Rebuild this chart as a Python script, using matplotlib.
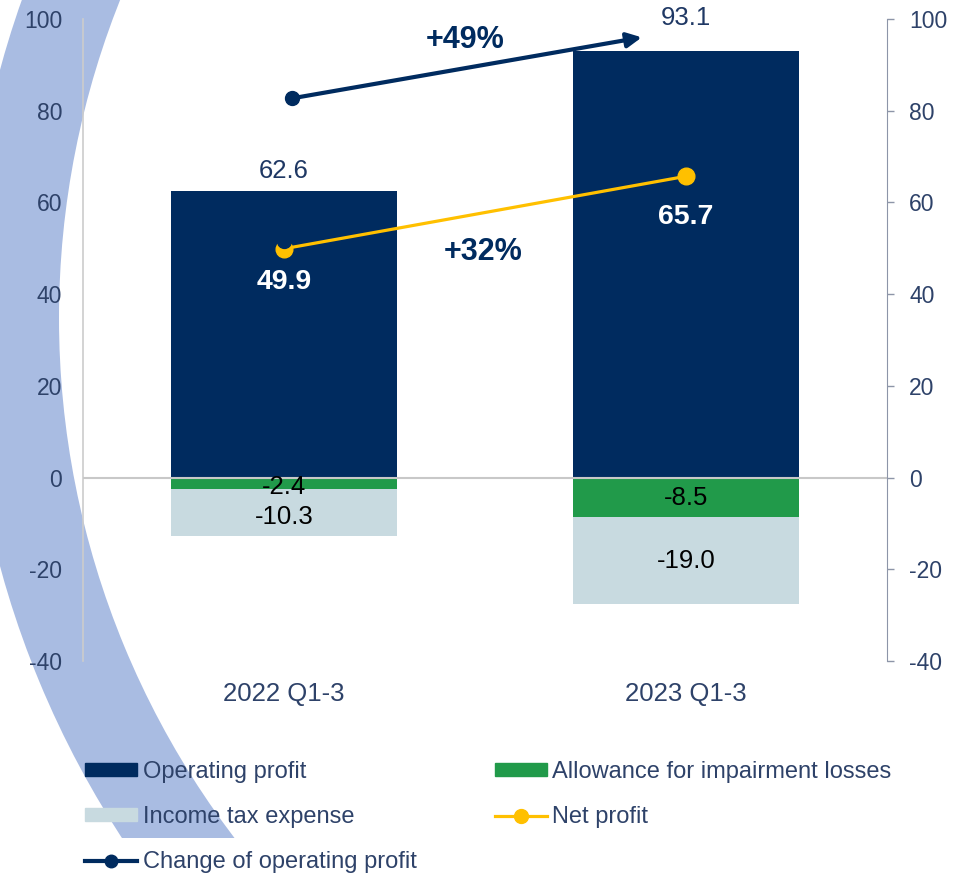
import matplotlib.pyplot as plt
from matplotlib.patches import Wedge, Rectangle, Patch
from matplotlib.lines import Line2D

plt.rcParams['font.family'] = ['Liberation Sans', 'DejaVu Sans']
plt.rcParams['axes.unicode_minus'] = False

categories = ['2022 Q1-3', '2023 Q1-3']
operating_profit = [62.6, 93.1]
impairment = [-2.4, -8.5]
income_tax = [-10.3, -19.0]
net_profit = [49.9, 65.7]
change_x = [0.02, 0.89]
change_y = [82.7, 96.0]
growth_labels = ['+49%', '+32%']

navy = '#002B5F'
green = '#219A4A'
light = '#C8DAE0'
yellow = '#FFC000'
txt = '#2E4269'

fig = plt.figure(figsize=(9.78, 8.76), dpi=100)

# decorative swoosh behind everything (figure pixel coords)
bg = fig.add_axes([0, 0, 1, 1], zorder=0)
bg.set_xlim(0, 978)
bg.set_ylim(876, 0)
bg.axis('off')
ring = Wedge((917, 318), 950, 0, 360, width=92, color='#A9BCE2', lw=0)
bg.add_patch(ring)
clip = Rectangle((0, 0), 978, 838, transform=bg.transData)
ring.set_clip_path(clip)

ax = fig.add_axes([83 / 978, 1 - 661 / 876, 804 / 978, 642 / 876], zorder=1)
ax.patch.set_alpha(0)
x = range(len(categories))
w = 0.56
ax.bar(x, operating_profit, w, color=navy, zorder=2)
ax.bar(x, impairment, w, color=green, zorder=2)
ax.bar(x, income_tax, w, bottom=impairment, color=light, zorder=2)
ax.axhline(0, color='#C8C8C8', lw=1.5, zorder=3)

ax.set_xlim(-0.5, 1.5)
ax.set_ylim(-40, 100)
ax.set_yticks(range(-40, 101, 20))
ax.set_xticks(list(x))
ax.set_xticklabels(categories)
ax.tick_params(axis='x', length=0, pad=15, labelsize=18.5, labelcolor=txt)
ax.tick_params(axis='y', length=0, pad=15, labelsize=16.5, labelcolor=txt)
for s in ['top', 'right', 'bottom']:
    ax.spines[s].set_visible(False)
ax.spines['left'].set_color('#CCCCCC')
ax.spines['left'].set_linewidth(1.2)

ax2 = ax.twinx()
ax2.set_ylim(-40, 100)
ax2.set_yticks(range(-40, 101, 20))
for s in ['top', 'left', 'bottom']:
    ax2.spines[s].set_visible(False)
ax2.spines['right'].set_color('#8D95A8')
ax2.tick_params(axis='y', length=5, width=1, color='#8D95A8', pad=11,
                labelsize=16.5, labelcolor=txt)

# net profit line
ax.plot(x, net_profit, color=yellow, lw=2.3, marker='o', ms=12, zorder=5)
ax.plot([0], [net_profit[0] + 1.6], 'o', color=navy, ms=10, zorder=6)

# change of operating profit arrow
ax.plot(change_x[:1], change_y[:1], 'o', color=navy, ms=10, zorder=5)
ax.annotate('', xy=(change_x[1], change_y[1]), xytext=(change_x[0], change_y[0]),
            arrowprops=dict(arrowstyle='-|>', lw=3, color=navy,
                            mutation_scale=22, shrinkA=0, shrinkB=0),
            zorder=5)

# labels
op_label_y = [66.9, 100.2]
for i, v in enumerate(operating_profit):
    ax.text(i, op_label_y[i], f'{v:.1f}', ha='center', va='center',
            fontsize=18.5, color='#1F3864', zorder=7)
np_label_y = [42.7, 56.9]
for i, v in enumerate(net_profit):
    ax.text(i, np_label_y[i], f'{v:.1f}', ha='center', va='center',
            fontsize=20.5, color='white', fontweight='bold', zorder=7)
imp_label_y = [-2.0, -4.4]
tax_label_y = [-8.5, -18.1]
for i in x:
    ax.text(i, imp_label_y[i], f'{impairment[i]:.1f}', ha='center', va='center',
            fontsize=18.5, color='black', zorder=7)
    ax.text(i, tax_label_y[i], f'{income_tax[i]:.1f}', ha='center', va='center',
            fontsize=18.5, color='black', zorder=7)
ax.text(0.451, 95.4, growth_labels[0], ha='center', va='center', fontsize=22,
        fontweight='bold', color=navy, zorder=7)
ax.text(0.496, 49.2, growth_labels[1], ha='center', va='center', fontsize=22,
        fontweight='bold', color=navy, zorder=7)

handles = [
    Patch(color=navy),
    Patch(color=light),
    Line2D([], [], color=navy, lw=3, marker='o', ms=9),
    Patch(color=green),
    Line2D([], [], color=yellow, lw=2.3, marker='o', ms=10),
]
labels = ['Operating profit', 'Income tax expense', 'Change of operating profit',
          'Allowance for impairment losses', 'Net profit']
leg = fig.legend(handles, labels, ncol=2, loc='upper left',
                 bbox_to_anchor=(85 / 978, 1 - 761 / 876), frameon=False,
                 fontsize=17, handlelength=2.2, handleheight=0.5,
                 handletextpad=0.25, labelspacing=0.98, columnspacing=3.3,
                 borderpad=0, borderaxespad=0)
for t in leg.get_texts():
    t.set_color(txt)

fig.savefig('out.png', dpi=100)
